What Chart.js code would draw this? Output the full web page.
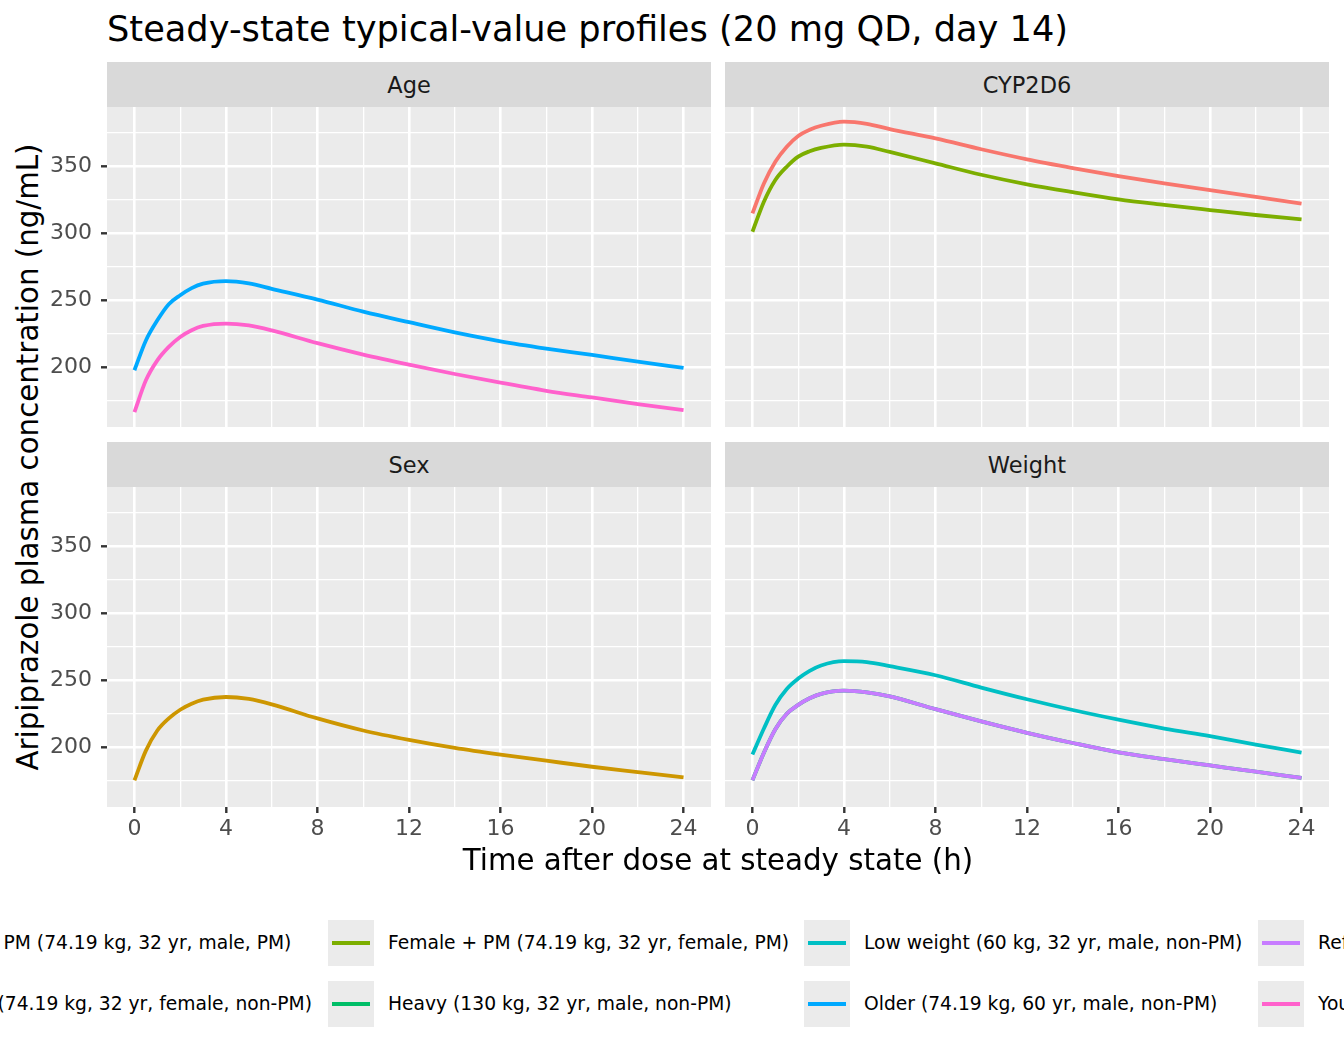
<!DOCTYPE html>
<html>
<head>
<meta charset="utf-8">
<script src="https://cdn.jsdelivr.net/npm/chart.js@4.4.1/dist/chart.umd.min.js"></script>
<style>
  body { margin: 0; width: 1344px; height: 1056px; position: relative; overflow: hidden; background: #fff; font-family: "DejaVu Sans", sans-serif; }
  .abs { position: absolute; }
  .strip { background: #D9D9D9; color: #1A1A1A; font-size: 22.5px; display: flex; align-items: center; justify-content: center; }
  .key { width: 46px; height: 46px; background: #EBEBEB; }
  .key span { position: absolute; left: 4px; right: 4px; top: 21px; height: 4px; }
  .lab { font-size: 18.7px; color: #000; white-space: nowrap; line-height: 46px; }
</style>
</head>
<body>

<div class="abs" style="left:107px; top:9px; font-size:35.2px; line-height:40px; white-space:nowrap;">Steady-state typical-value profiles (20 mg QD, day 14)</div>

<div class="abs strip" style="left:107px; top:62px; width:604px; height:45px;">Age</div>
<div class="abs strip" style="left:725px; top:62px; width:604px; height:45px;">CYP2D6</div>
<div class="abs strip" style="left:107px; top:442px; width:604px; height:45px;">Sex</div>
<div class="abs strip" style="left:725px; top:442px; width:604px; height:45px;">Weight</div>

<canvas id="pAge" class="abs" width="664" height="320" style="left:47px; top:107px;"></canvas>
<canvas id="pCyp" class="abs" width="604" height="320" style="left:725px; top:107px;"></canvas>
<canvas id="pSex" class="abs" width="664" height="360" style="left:47px; top:487px;"></canvas>
<canvas id="pWt" class="abs" width="604" height="360" style="left:725px; top:487px;"></canvas>

<div class="abs" style="left:28px; top:457px; transform:translate(-50%,-50%) rotate(-90deg); font-size:29.3px; white-space:nowrap;">Aripiprazole plasma concentration (ng/mL)</div>
<div class="abs" style="left:718px; top:860px; transform:translate(-50%,-50%); font-size:29.3px; white-space:nowrap;">Time after dose at steady state (h)</div>

<div id="legend"></div>

<script>
  // time grid (h) and typical-value concentrations (ng/mL)
  var times = [0, 0.5, 1, 1.5, 2, 2.5, 3, 4, 5, 6, 8, 10, 12, 14, 16, 18, 20, 22, 24];

  var cypPM    = [314.7, 337, 353.2, 364.4, 372.4, 377, 380, 383.1, 381.5, 377.5, 370.6, 362.5, 355, 348.5, 342.5, 337, 332, 327, 322];
  var female   = [175.4, 197.5, 212.5, 221.5, 228, 232.5, 235.5, 237.5, 236, 232, 221.5, 212.5, 205.5, 199.5, 194.5, 190, 185.5, 181.5, 177.5];
  var femalePM = [301, 323.4, 339.6, 349.5, 357, 361, 363.5, 366, 364.5, 360.5, 352, 343.5, 336.4, 330.5, 325.1, 321, 317.2, 313.5, 310.2];
  var heavy    = [175.5, 196, 213.5, 225, 231.6, 236.5, 239.8, 242.2, 241, 238, 228.4, 219.3, 210.8, 203.2, 196.3, 191.2, 186.5, 181.8, 177.2];
  var lowWt    = [194.6, 214, 231.5, 243.5, 251.2, 257, 261, 264.2, 263.5, 260.5, 253.7, 244.5, 235.8, 227.8, 220.6, 214, 208.3, 202, 196.1];
  var older    = [197.8, 220, 235, 247, 253.7, 259, 262.3, 264.2, 262.5, 258.5, 250.5, 241.5, 233.6, 226, 219.4, 214, 209.2, 204.2, 199.5];
  var refer    = [175.5, 196, 213.5, 225, 231.6, 236.5, 239.8, 242.2, 241, 238, 228.4, 219.3, 210.8, 203.2, 196.3, 191.2, 186.5, 181.8, 177.2];
  var young    = [166.6, 190.3, 205.2, 215.2, 222.6, 227.6, 230.8, 232.6, 231.2, 227.5, 218, 209.5, 202, 195, 188.5, 182.5, 177.5, 172.5, 168];

  var xTicks = [0, 2, 4, 6, 8, 10, 12, 14, 16, 18, 20, 22, 24];
  var yTicks = [175, 200, 225, 250, 275, 300, 325, 350, 375];

  var series = [
    { name: "CYP2D6 PM (74.19 kg, 32 yr, male, PM)", color: "#F8766D", vals: cypPM, panel: "pCyp" },
    { name: "Female (74.19 kg, 32 yr, female, non-PM)", color: "#CD9600", vals: female, panel: "pSex" },
    { name: "Female + PM (74.19 kg, 32 yr, female, PM)", color: "#7CAE00", vals: femalePM, panel: "pCyp" },
    { name: "Heavy (130 kg, 32 yr, male, non-PM)", color: "#00BE67", vals: heavy, panel: "pWt" },
    { name: "Low weight (60 kg, 32 yr, male, non-PM)", color: "#00BFC4", vals: lowWt, panel: "pWt" },
    { name: "Older (74.19 kg, 60 yr, male, non-PM)", color: "#00A9FF", vals: older, panel: "pAge" },
    { name: "Reference (74.19 kg, 32 yr, male, non-PM)", color: "#C77CFF", vals: refer, panel: "pWt" },
    { name: "Young (74.19 kg, 20 yr, male, non-PM)", color: "#FF61CC", vals: young, panel: "pAge" }
  ];

  var panelBg = {
    id: 'panelBg',
    beforeDraw: function (chart) {
      var a = chart.chartArea, ctx = chart.ctx;
      ctx.save();
      ctx.fillStyle = '#EBEBEB';
      ctx.fillRect(a.left, a.top, a.right - a.left, a.bottom - a.top);
      ctx.restore();
    }
  };

  function makePanel(id, showX, showY) {
    // ggplot draws groups in order, so the last one ends up on top; Chart.js puts index 0 on top
    var ds = series.filter(function (s) { return s.panel === id; }).reverse().map(function (s) {
      return {
        label: s.name,
        data: times.map(function (t, i) { return { x: t, y: s.vals[i] }; }),
        borderColor: s.color,
        borderWidth: 3.8,
        pointRadius: 0,
        fill: false,
        cubicInterpolationMode: 'monotone'
      };
    });

    new Chart(document.getElementById(id), {
      type: 'line',
      data: { datasets: ds },
      plugins: [panelBg],
      options: {
        responsive: false,
        animation: false,
        layout: { padding: 0 },
        plugins: { legend: { display: false }, tooltip: { enabled: false } },
        scales: {
          x: {
            type: 'linear', min: -1.2, max: 25.2,
            afterBuildTicks: function (sc) { sc.ticks = xTicks.map(function (v) { return { value: v }; }); },
            afterFit: function (sc) {
              sc.height = showX ? 40 : 0;
              sc.paddingLeft = 0; sc.paddingRight = 0;
            },
            border: { display: false },
            grid: {
              color: '#FFFFFF',
              lineWidth: function (c) { return c.tick && c.tick.value % 4 === 0 ? 2.6 : 1.3; },
              drawTicks: showX,
              tickLength: 6,
              tickWidth: 2.4,
              tickColor: function (c) { return c.tick && c.tick.value % 4 === 0 ? '#333333' : 'rgba(0,0,0,0)'; }
            },
            ticks: {
              display: showX,
              maxRotation: 0,
              autoSkip: false,
              padding: 3,
              color: '#4D4D4D',
              font: { family: 'DejaVu Sans', size: 22 },
              callback: function (v) { return v % 4 === 0 ? String(v) : ''; }
            }
          },
          y: {
            type: 'linear', min: 155.5, max: 394,
            afterBuildTicks: function (sc) { sc.ticks = yTicks.map(function (v) { return { value: v }; }); },
            afterFit: function (sc) {
              sc.width = showY ? 60 : 0;
              sc.paddingTop = 0; sc.paddingBottom = 0;
            },
            border: { display: false },
            grid: {
              color: '#FFFFFF',
              lineWidth: function (c) { return c.tick && c.tick.value % 50 === 0 ? 2.6 : 1.3; },
              drawTicks: showY,
              tickLength: 6,
              tickWidth: 2.4,
              tickColor: function (c) { return c.tick && c.tick.value % 50 === 0 ? '#333333' : 'rgba(0,0,0,0)'; }
            },
            ticks: {
              display: showY,
              autoSkip: false,
              padding: 9,
              color: '#4D4D4D',
              font: { family: 'DejaVu Sans', size: 22 },
              callback: function (v) { return v % 50 === 0 ? String(v) : ''; }
            }
          }
        }
      }
    });
  }

  makePanel('pAge', false, true);
  makePanel('pCyp', false, false);
  makePanel('pSex', true, true);
  makePanel('pWt', true, false);

  // legend: 2 rows, filled column by column, wider than the page as in the original
  var colLeft = [-136, 328, 804, 1258];
  var rowTop = [920, 981];
  var lg = document.getElementById('legend');
  series.forEach(function (s, i) {
    var col = Math.floor(i / 2), row = i % 2;
    var k = document.createElement('div');
    k.className = 'abs key';
    k.style.left = colLeft[col] + 'px';
    k.style.top = rowTop[row] + 'px';
    var ln = document.createElement('span');
    ln.style.background = s.color;
    k.appendChild(ln);
    lg.appendChild(k);
    var t = document.createElement('div');
    t.className = 'abs lab';
    t.style.left = (colLeft[col] + 60) + 'px';
    t.style.top = rowTop[row] + 'px';
    t.textContent = s.name;
    lg.appendChild(t);
  });
</script>
</body>
</html>
